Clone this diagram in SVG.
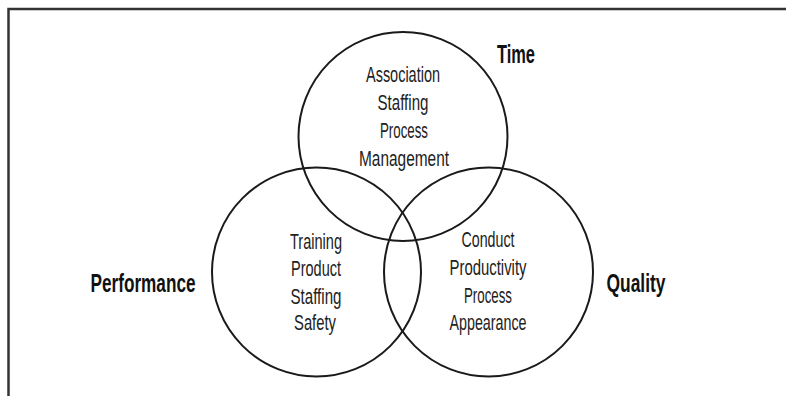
<svg xmlns="http://www.w3.org/2000/svg" width="786" height="396" viewBox="0 0 786 396">
<style>
.frame{fill:none;stroke:#333;stroke-width:2.5}
.c{fill:none;stroke:#1a1a1a;stroke-width:2}
.t{font-family:"Liberation Sans",Arial,sans-serif;font-size:21.5px;fill:#222;text-anchor:middle}
.l{font-family:"Liberation Sans",Arial,sans-serif;font-size:25px;font-weight:bold;fill:#111;text-anchor:middle}
</style>
<rect width="786" height="396" fill="#fff"/>
<path class="frame" d="M8.5,396 V9 H786"/>
<g id="time">
<circle class="c" cx="403" cy="136.5" r="104.5"/>
<text class="t" x="403" y="82" textLength="74" lengthAdjust="spacingAndGlyphs">Association</text>
<text class="t" x="403" y="110" textLength="51" lengthAdjust="spacingAndGlyphs">Staffing</text>
<text class="t" x="404" y="138" textLength="48" lengthAdjust="spacingAndGlyphs">Process</text>
<text class="t" x="404" y="166" textLength="90" lengthAdjust="spacingAndGlyphs">Management</text>
<text class="l" x="516" y="63" textLength="38" lengthAdjust="spacingAndGlyphs">Time</text>
</g>
<g id="performance">
<circle class="c" cx="316.5" cy="272" r="104.5"/>
<text class="t" x="316" y="249" textLength="52" lengthAdjust="spacingAndGlyphs">Training</text>
<text class="t" x="316" y="276" textLength="50" lengthAdjust="spacingAndGlyphs">Product</text>
<text class="t" x="316" y="304" textLength="51" lengthAdjust="spacingAndGlyphs">Staffing</text>
<text class="t" x="315" y="330" textLength="42" lengthAdjust="spacingAndGlyphs">Safety</text>
<text class="l" x="143" y="292" textLength="105" lengthAdjust="spacingAndGlyphs">Performance</text>
</g>
<g id="quality">
<circle class="c" cx="488.5" cy="272" r="104.5"/>
<text class="t" x="488" y="247" textLength="53" lengthAdjust="spacingAndGlyphs">Conduct</text>
<text class="t" x="488" y="275" textLength="77" lengthAdjust="spacingAndGlyphs">Productivity</text>
<text class="t" x="488" y="303" textLength="48" lengthAdjust="spacingAndGlyphs">Process</text>
<text class="t" x="488" y="330" textLength="77" lengthAdjust="spacingAndGlyphs">Appearance</text>
<text class="l" x="636" y="292" textLength="59" lengthAdjust="spacingAndGlyphs">Quality</text>
</g>
<g id="connectors"/>
</svg>
